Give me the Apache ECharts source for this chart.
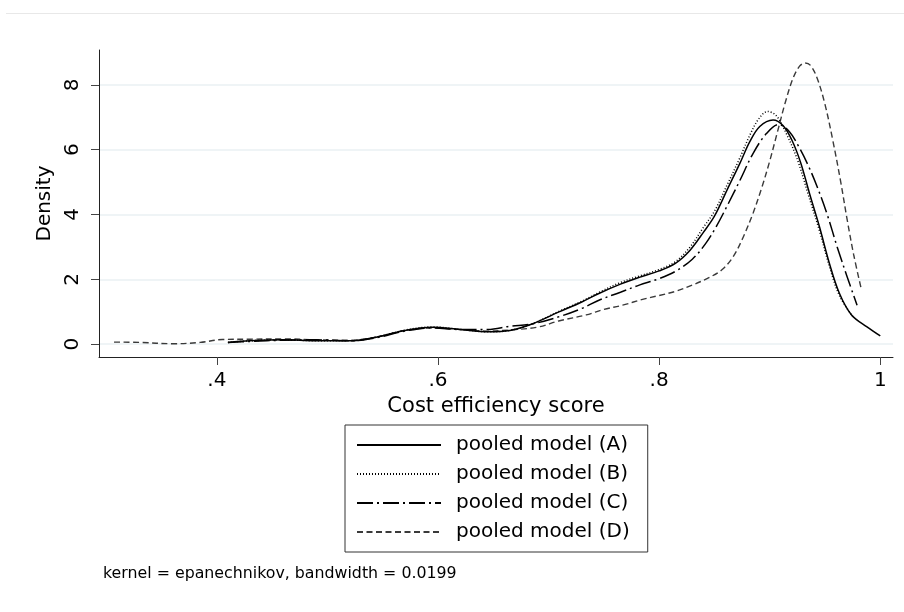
<!DOCTYPE html>
<html><head><meta charset="utf-8">
<script src="https://cdn.jsdelivr.net/npm/echarts@6/dist/echarts.min.js"></script>
<style>html,body{margin:0;padding:0;background:#fff}#c{width:904px;height:612px}</style>
</head><body><div id="c"></div>
<script>
const seriesNames = ['pooled model (A)', 'pooled model (B)', 'pooled model (C)', 'pooled model (D)'];
const xTicks = [0.4, 0.6, 0.8, 1.0];
const xTickLabels = ['.4', '.6', '.8', '1'];
const yTicks = [0, 2, 4, 6, 8];
const yTickLabels = ['0', '2', '4', '6', '8'];

const xA = [0.41,0.43,0.46,0.49,0.52,0.545,0.57,0.595,0.62,0.645,0.665,0.685,0.71,0.73,0.746,0.765,0.782,0.8,0.815,0.828,0.84,0.85,0.862,0.873,0.882,0.891,0.903,0.912,0.92,0.928,0.936,0.945,0.954,0.963,0.974,0.988,1.0];
const dA = [0.05,0.1,0.13,0.1,0.1,0.22,0.42,0.52,0.45,0.38,0.42,0.62,1.0,1.3,1.57,1.85,2.06,2.26,2.5,2.9,3.45,3.95,4.8,5.58,6.25,6.72,6.92,6.75,6.3,5.6,4.65,3.62,2.49,1.57,0.9,0.53,0.25];

const xB = [0.41,0.43,0.46,0.49,0.52,0.545,0.57,0.595,0.62,0.645,0.665,0.685,0.71,0.73,0.746,0.765,0.782,0.8,0.815,0.828,0.84,0.85,0.862,0.873,0.882,0.89,0.898,0.906,0.915,0.925,0.935,0.945,0.954,0.963,0.975];
const dB = [0.05,0.1,0.13,0.1,0.1,0.22,0.43,0.53,0.45,0.38,0.42,0.62,1.02,1.32,1.6,1.9,2.1,2.3,2.55,3.0,3.6,4.1,4.95,5.75,6.45,6.95,7.18,7.05,6.5,5.7,4.6,3.5,2.4,1.5,0.85];

const xC = [0.41,0.43,0.46,0.49,0.52,0.545,0.57,0.595,0.62,0.645,0.665,0.685,0.71,0.73,0.746,0.765,0.782,0.8,0.815,0.83,0.842,0.852,0.862,0.873,0.885,0.897,0.908,0.918,0.927,0.935,0.943,0.952,0.961,0.97,0.979];
const dC = [0.05,0.08,0.12,0.13,0.1,0.2,0.4,0.5,0.45,0.45,0.55,0.62,0.85,1.1,1.36,1.6,1.82,2.02,2.25,2.62,3.1,3.65,4.3,5.05,5.89,6.5,6.78,6.55,6.05,5.5,4.85,4.0,3.0,2.08,1.2];

const xD = [0.307,0.33,0.36,0.385,0.405,0.43,0.46,0.49,0.52,0.545,0.57,0.595,0.62,0.645,0.67,0.69,0.71,0.734,0.75,0.767,0.785,0.8,0.815,0.83,0.845,0.857,0.867,0.876,0.885,0.893,0.9,0.907,0.914,0.921,0.927,0.932,0.937,0.943,0.95,0.957,0.964,0.97,0.976,0.983];
const dD = [0.06,0.05,0.01,0.05,0.14,0.15,0.16,0.13,0.12,0.22,0.42,0.5,0.45,0.4,0.45,0.52,0.72,0.9,1.07,1.2,1.38,1.5,1.63,1.82,2.05,2.3,2.7,3.3,4.05,4.85,5.65,6.55,7.45,8.2,8.58,8.68,8.6,8.2,7.4,6.3,5.05,3.85,2.75,1.67];

const footnote = 'kernel = epanechnikov, bandwidth = 0.0199';
const xTitle = 'Cost efficiency score';
const yTitle = 'Density';

const zip = (xs, ys) => xs.map((x, i) => [x, ys[i]]);
const FONT = 'DejaVu Sans';
const styles = [
  {color: '#000', width: 1.5, type: 'solid'},
  {color: '#000', width: 1.5, type: [1, 2]},
  {color: '#000', width: 1.5, type: [16, 4, 2, 4]},
  {color: '#3a3a3a', width: 1.4, type: [6, 3.5]}
];
const dataSets = [zip(xA, dA), zip(xB, dB), zip(xC, dC), zip(xD, dD)];

const chart = echarts.init(document.getElementById('c'), null, {renderer: 'canvas'});
chart.setOption({
  animation: false,
  backgroundColor: '#fff',
  textStyle: {fontFamily: FONT},
  grid: {left: 99, right: 11, top: 50, bottom: 255, containLabel: false},
  xAxis: {
    type: 'value', min: 0.2934, max: 1.0115,
    name: xTitle, nameLocation: 'middle', nameGap: 33,
    nameTextStyle: {fontFamily: FONT, fontSize: 21, color: '#000'},
    axisLine: {show: true, onZero: false, lineStyle: {color: '#222', width: 1}},
    axisTick: {show: true, length: 8, customValues: xTicks, lineStyle: {color: '#444'}},
    axisLabel: {customValues: xTicks, margin: 14, fontFamily: FONT, fontSize: 20, color: '#000',
      formatter: v => { const i = xTicks.findIndex(t => Math.abs(t - v) < 1e-9); return i >= 0 ? xTickLabels[i] : ''; }},
    splitLine: {show: false}
  },
  yAxis: {
    type: 'value', min: -0.4, max: 9.08,
    name: yTitle, nameLocation: 'middle', nameGap: 42, nameRotate: 90,
    nameTextStyle: {fontFamily: FONT, fontSize: 20, color: '#000'},
    axisLine: {show: true, onZero: false, lineStyle: {color: '#222', width: 1}},
    axisTick: {show: true, length: 8, customValues: yTicks, lineStyle: {color: '#444'}},
    axisLabel: {customValues: yTicks, rotate: 90, margin: 16, fontFamily: FONT, fontSize: 20, color: '#000',
      formatter: v => { const i = yTicks.findIndex(t => Math.abs(t - v) < 1e-9); return i >= 0 ? yTickLabels[i] : ''; }},
    splitLine: {show: true, lineStyle: {color: '#eaf0f3', width: 1.5}}
  },
  legend: {
    orient: 'vertical', left: 345, top: 425,
    data: seriesNames,
    itemWidth: 84, itemHeight: 20, itemGap: 9,
    padding: [10, 18, 10, 11],
    borderColor: '#333', borderWidth: 1,
    itemStyle: {opacity: 0},
    textStyle: {fontFamily: FONT, fontSize: 20, color: '#000', padding: [0, 0, 0, 10], lineHeight: 20},
    selectedMode: false
  },
  graphic: [
    {type: 'line', shape: {x1: 6, y1: 13.5, x2: 904, y2: 13.5}, style: {stroke: '#e8e8e8', lineWidth: 1}},
    {type: 'text', left: 103, top: 566, style: {text: footnote, font: '15.8px "DejaVu Sans"', fill: '#000'}}
  ],
  series: seriesNames.map((n, i) => ({
    name: n, type: 'line', data: dataSets[i],
    showSymbol: false, symbol: 'none', smooth: 0.35,
    lineStyle: styles[i], itemStyle: {color: styles[i].color},
    z: 10 - i
  }))
});
</script></body></html>
